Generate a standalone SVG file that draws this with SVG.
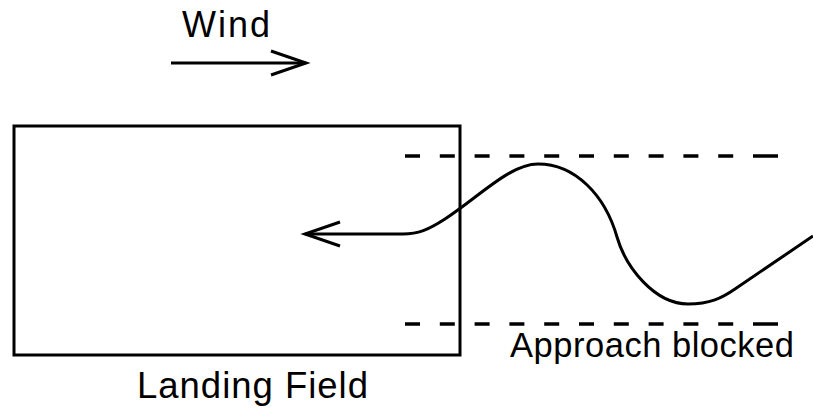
<svg xmlns="http://www.w3.org/2000/svg" width="813" height="410" viewBox="0 0 813 410">
<style>
.ln{fill:none;stroke:#000;stroke-width:3}
.dash{fill:none;stroke:#000;stroke-width:3.5;stroke-dasharray:15 19.8 15 19.8 15 19.8 15 19.8 15 19.8 15 19.8 15 19.8 15 19.8 15 19.8 15 19.8 25 40}
.t{font-family:"Liberation Sans",Arial,sans-serif;fill:#000}
</style>
<defs>
<marker id="open" markerUnits="userSpaceOnUse" markerWidth="44" markerHeight="34" refX="38" refY="15" orient="auto">
<path d="M3 3 L38 15 L3 27" fill="none" stroke="#000" stroke-width="3"/>
</marker>
</defs>
<rect width="813" height="410" fill="#fff"/>
<g id="landing-field">
<rect class="ln" x="14" y="126" width="446" height="229"/>
<text class="t" x="137" y="398" font-size="36.5" textLength="231" lengthAdjust="spacing">Landing Field</text>
</g>
<g id="approach-blocked">
<line class="dash" x1="405" y1="156" x2="778" y2="156"/>
<line class="dash" x1="405" y1="324" x2="778" y2="324"/>
<text class="t" x="510" y="357" font-size="34.5" textLength="284" lengthAdjust="spacing">Approach blocked</text>
</g>
<g id="wind">
<text class="t" x="182" y="37" font-size="36" textLength="88" lengthAdjust="spacing">Wind</text>
</g>
<g id="connectors">
<line class="ln" x1="171" y1="63" x2="306" y2="63" marker-end="url(#open)"/>
<path class="ln" d="M813 236 L735 289 C722 298 710 304 688 304 C655 304 626 268 617 237 C605 195 575 164 538 164 C510 164 480 196 445 219 C428 230 418 234 403 234 L305 234" marker-end="url(#open)"/>
</g>
</svg>
